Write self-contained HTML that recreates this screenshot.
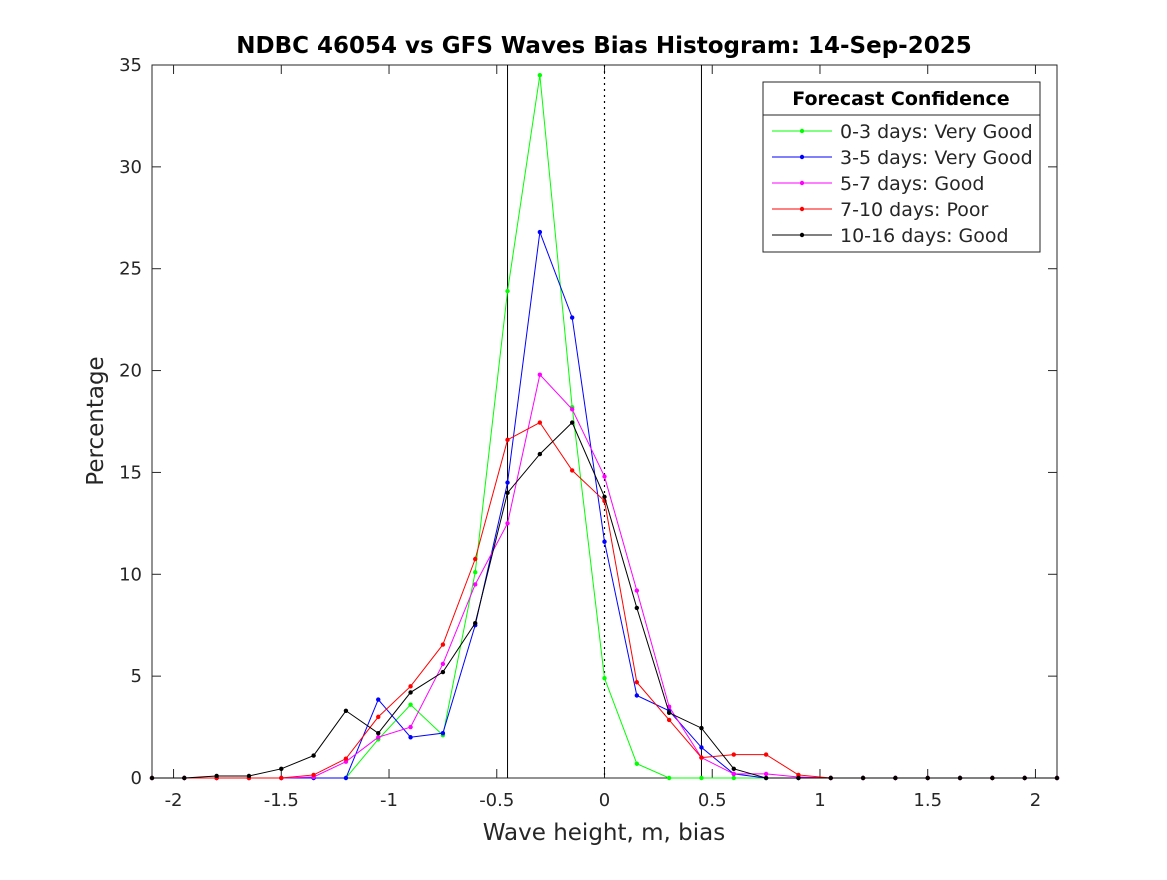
<!DOCTYPE html>
<html><head><meta charset="utf-8"><style>
body{margin:0;background:#fff;}
svg text{font-family:"DejaVu Sans","Liberation Sans",sans-serif;fill:#262626;}
</style></head><body>
<svg id="chart" width="1167" height="875" xmlns="http://www.w3.org/2000/svg">
<rect width="1167" height="875" fill="#fff"/>
<text x="604" y="53" text-anchor="middle" font-size="23" font-weight="bold" style="fill:#000">NDBC 46054 vs GFS Waves Bias Histogram: 14-Sep-2025</text>
<g id="axes"></g>
<g id="series"></g>
<text x="604" y="840" text-anchor="middle" font-size="23">Wave height, m, bias</text>
<text transform="translate(103,421) rotate(-90)" text-anchor="middle" font-size="23">Percentage</text>
<g id="legend"></g>
</svg>
<script>
const xVals=[-2.1,-1.95,-1.8,-1.65,-1.5,-1.35,-1.2,-1.05,-0.9,-0.75,-0.6,-0.45,-0.3,-0.15,0,0.15,0.3,0.45,0.6,0.75,0.9,1.05,1.2,1.35,1.5,1.65,1.8,1.95,2.1];
const green=[0,0,0,0,0,0,0,1.9,3.6,2.1,10.1,23.9,34.5,18.2,4.9,0.7,0,0,0,0,0,0,0,0,0,0,0,0,0];
const blue=[0,0,0,0,0,0,0,3.85,2.0,2.2,7.5,14.5,26.8,22.6,11.6,4.05,3.3,1.5,0.2,0,0,0,0,0,0,0,0,0,0];
const magenta=[0,0,0,0,0,0.05,0.8,2.0,2.5,5.6,9.5,12.5,19.8,18.1,14.8,9.2,3.5,1.0,0.2,0.2,0.05,0,0,0,0,0,0,0,0];
const red=[0,0,0,0,0,0.15,0.95,3.0,4.5,6.55,10.75,16.6,17.45,15.1,13.6,4.7,2.85,1.0,1.15,1.15,0.15,0,0,0,0,0,0,0,0];
const black=[0,0,0.1,0.1,0.45,1.1,3.3,2.2,4.2,5.2,7.6,14.0,15.9,17.45,13.8,8.35,3.2,2.45,0.45,0,0,0,0,0,0,0,0,0,0];
const xTicks=[-2,-1.5,-1,-0.5,0,0.5,1,1.5,2];
const yTicks=[0,5,10,15,20,25,30,35];
const legendLabels=["0-3 days: Very Good","3-5 days: Very Good","5-7 days: Good","7-10 days: Poor","10-16 days: Good"];
const seriesColors=["#00ff00","#0000ff","#ff00ff","#ff0000","#000000"];
const NS="http://www.w3.org/2000/svg";
const L=152,R=1057,T=65,B=778;
const sx=v=>L+(v+2.1)/4.2*(R-L);
const sy=v=>B-v/35*(B-T);
function mk(tag,attrs,parent){const e=document.createElementNS(NS,tag);for(const k in attrs)e.setAttribute(k,attrs[k]);parent.appendChild(e);return e;}
const ax=document.getElementById('axes');
let fr=mk('rect',{x:L,y:T,width:R-L,height:B-T,fill:'none',stroke:'#262626','stroke-width':1},ax);


xTicks.forEach(t=>{const x=sx(t);
 mk('line',{x1:x,x2:x,y1:B,y2:B-9,stroke:'#262626'},ax);
 mk('line',{x1:x,x2:x,y1:T,y2:T+9,stroke:'#262626'},ax);
 const tx=mk('text',{x:x,y:B+28,'text-anchor':'middle','font-size':18},ax);tx.textContent=String(t);
 
 });
yTicks.forEach(t=>{const y=sy(t);
 mk('line',{x1:L,x2:L+9,y1:y,y2:y,stroke:'#262626'},ax);
 mk('line',{x1:R,x2:R-9,y1:y,y2:y,stroke:'#262626'},ax);
 const tx=mk('text',{x:L-10,y:y+6,'text-anchor':'end','font-size':18},ax);tx.textContent=String(t);
 
 });
[-0.45,0.45].forEach(v=>{const l=mk('line',{x1:sx(v),x2:sx(v),y1:T,y2:B,stroke:'#000','stroke-width':1},ax);
 
 });
let zl=mk('line',{x1:sx(0),x2:sx(0),y1:T,y2:B,stroke:'#000','stroke-width':1.2,'stroke-dasharray':'2,4'},ax);


const sg=document.getElementById('series');
[green,blue,magenta,red,black].forEach((d,i)=>{
 const g=mk('g',{},sg);
 
 
 mk('polyline',{points:d.map((v,j)=>sx(xVals[j])+','+sy(v)).join(' '),fill:'none',stroke:seriesColors[i],'stroke-width':1},g);
 d.forEach((v,j)=>{const c=mk('circle',{cx:sx(xVals[j]),cy:sy(v),r:2.2,fill:seriesColors[i]},g);
  
  });
});
const lg=document.getElementById('legend');


mk('rect',{x:763,y:82,width:277,height:170,fill:'#fff',stroke:'#262626'},lg);
mk('line',{x1:763,x2:1040,y1:115,y2:115,stroke:'#262626'},lg);
const lt=mk('text',{x:901,y:105,'text-anchor':'middle','font-size':19,'font-weight':'bold',style:'fill:#000'},lg);lt.textContent='Forecast Confidence';


legendLabels.forEach((s,i)=>{const y=131+i*26;
 const e=mk('g',{},lg);
 
 
 mk('line',{x1:772,x2:832,y1:y,y2:y,stroke:seriesColors[i]},e);
 mk('circle',{cx:802,cy:y,r:2.2,fill:seriesColors[i]},e);
 const t=mk('text',{x:840,y:y+7,'font-size':19},e);t.textContent=s;});
</script>
</body></html>
